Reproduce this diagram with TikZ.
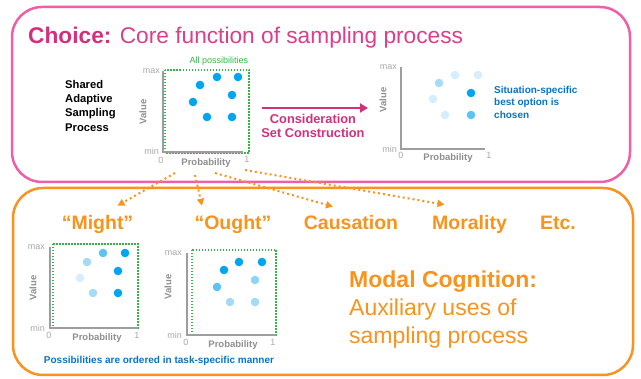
\documentclass[tikz,border=0pt]{standalone}
\usepackage{fontspec}
\setmainfont{Liberation Sans}
\usetikzlibrary{arrows.meta}

\definecolor{framepink}{HTML}{EF5FA7}
\definecolor{choicepink}{HTML}{D2307D}
\definecolor{corepink}{HTML}{DA3F8A}
\definecolor{modalorange}{HTML}{F7931E}
\definecolor{infoblue}{HTML}{0B72C0}
\definecolor{dotbright}{HTML}{00A5F0}
\definecolor{dotmid}{HTML}{5CC3F5}
\definecolor{dotlight}{HTML}{A6DBF8}
\definecolor{dotpale}{HTML}{D4EEFB}
\definecolor{possgreen}{HTML}{35B44A}
\definecolor{axisgray}{HTML}{9E9E9E}
\definecolor{ticktext}{HTML}{A8A8A8}
\definecolor{axistext}{HTML}{8E8E8E}

\tikzset{
    frame/.style={rounded corners=30pt, line width=2.5pt},
    axisline/.style={draw=axisgray, line width=1.6pt},
    possbox/.style={draw=possgreen, line width=1.5pt, dash pattern=on 1.5pt off 1.5pt},
    ticklabel/.style={inner sep=0, text=ticktext, font=\fontsize{9}{10}\selectfont},
    axislabel/.style={inner sep=0, text=axistext, font=\bfseries\fontsize{9.5}{11}\selectfont},
    heading/.style={anchor=base, inner sep=0, text=modalorange, font=\bfseries\fontsize{19.5}{22}\selectfont},
    usearrow/.style={draw=modalorange, line width=2pt, dash pattern=on 2pt off 3pt,
        -{Triangle[length=7pt,width=7pt]}},
}

\begin{document}
\begin{tikzpicture}[x=1pt,y=-1pt]
    \useasboundingbox (0,0) rectangle (641,379);

    % the two frames
    \draw[frame, draw=framepink] (12,7) rectangle (630,182);
    \draw[frame, draw=modalorange] (13,188) rectangle (633,375);

    % top: choice
    \node[anchor=base west, inner sep=0, font=\fontsize{22.7}{27}\selectfont, text=corepink] (title) at (28,43.5)
        {\textcolor{choicepink}{\bfseries Choice:} Core function of sampling process};
    \node[anchor=north west, inner sep=0, align=left, font=\bfseries\fontsize{11.2}{14.3}\selectfont] (shared) at (65,79.8)
        {Shared\\Adaptive\\Sampling\\Process};

    % all possibilities
    \begin{scope}[shift={(163,152)}]
        \draw[possbox] (2,-82) rectangle (86,1);
        \draw[axisline] (0,-81) -- (0,0) -- (80,0);
        \node[inner sep=0, text=possgreen, font=\fontsize{9}{10}\selectfont] (allposs) at (56,-91) {All possibilities};
        \node[ticklabel, anchor=east] (amax) at (-3,-81) {max};
        \node[ticklabel, anchor=east] (amin) at (-4,-1) {min};
        \node[ticklabel] (azero) at (-2,8) {0};
        \node[ticklabel] (aone) at (84,7) {1};
        \node[axislabel] (aprob) at (43,11) {Probability};
        \node[axislabel, rotate=90] (aval) at (-20,-40) {Value};
        \fill[dotbright] (37,-67) circle (4.3pt);
        \fill[dotbright] (54,-75) circle (4.3pt);
        \fill[dotbright] (75,-75) circle (4.3pt);
        \fill[dotbright] (30,-50) circle (4.3pt);
        \fill[dotbright] (69,-57) circle (4.3pt);
        \fill[dotbright] (44,-35) circle (4.3pt);
        \fill[dotbright] (69,-35) circle (4.3pt);
    \end{scope}

    \coordinate (csstart) at (262,108);
    \coordinate (csend) at (368,108);
    \draw[draw=choicepink, line width=2.5pt, -{Triangle[length=8pt,width=9pt]}] (csstart) -- (csend);
    \node[anchor=north, inner sep=0, align=center, text=choicepink, font=\bfseries\fontsize{12.8}{14}\selectfont] (consider) at (313,113.8)
        {Consideration\\Set Construction};

    % best option chosen
    \begin{scope}[shift={(401,149)}]
        \draw[axisline] (0,-82) -- (0,0) -- (84,0);
        \node[ticklabel, anchor=east] (bmax) at (-4,-82) {max};
        \node[ticklabel, anchor=east] (bmin) at (-4,0) {min};
        \node[ticklabel] (bzero) at (0,6) {0};
        \node[ticklabel] (bone) at (88,6) {1};
        \node[axislabel] (bprob) at (47,9) {Probability};
        \node[axislabel, rotate=90] (bval) at (-18,-49) {Value};
        \fill[dotlight] (38,-66) circle (4.3pt);
        \fill[dotpale] (54,-74) circle (4.3pt);
        \fill[dotpale] (77,-74) circle (4.3pt);
        \fill[dotpale] (32,-50) circle (4.3pt);
        \fill[dotbright] (70,-56) circle (4.3pt);
        \fill[dotpale] (44,-34) circle (4.3pt);
        \fill[dotmid] (70,-34) circle (4.3pt);
    \end{scope}
    \node[anchor=north west, inner sep=0, align=left, text=infoblue, font=\bfseries\fontsize{10}{12.2}\selectfont] (chosen) at (494,86.3)
        {Situation-specific\\best option is\\chosen};

    % bottom: modal cognition
    \node[heading] (might) at (97.5,230) {“Might”};
    \node[heading] (ought) at (233,230) {“Ought”};
    \node[heading] (causation) at (351,230) {Causation};
    \node[heading] (morality) at (469.5,230) {Morality};
    \node[heading] (etc) at (558,230) {Etc.};

    \coordinate (mightout) at (175,173);
    \coordinate (oughtout) at (195,175);
    \coordinate (causeout) at (215,173);
    \coordinate (moralout) at (245,170);
    \draw[usearrow] (mightout) -- ([shift={(20,-10)}]might.north);
    \draw[usearrow] (oughtout) -- ([shift={(-31,-10)}]ought.north);
    \draw[usearrow] (causeout) -- ([shift={(-18,-9)}]causation.north);
    \draw[usearrow] (moralout) -- ([shift={(-25,-11)}]morality.north);

    \node[anchor=north west, inner sep=0, align=left, text=modalorange, font=\fontsize{23}{28}\selectfont] (modal) at (349,270.3)
        {\textbf{Modal Cognition:}\\Auxiliary uses of\\sampling process};

    % might
    \begin{scope}[shift={(50,328)}]
        \draw[possbox] (3,-84) rectangle (88,0);
        \draw[axisline] (0,-81) -- (0,0) -- (88,0);
        \node[ticklabel, anchor=east] (mmax) at (-5,-81) {max};
        \node[ticklabel, anchor=east] (mmin) at (-5,0) {min};
        \node[ticklabel] (mzero) at (-1,7) {0};
        \node[ticklabel] (mone) at (87,7) {1};
        \node[axislabel] (mprob) at (47,10) {Probability};
        \node[axislabel, rotate=90] (mval) at (-17,-40) {Value};
        \fill[dotlight] (37,-66) circle (4.3pt);
        \fill[dotmid] (53,-75) circle (4.3pt);
        \fill[dotbright] (75,-75) circle (4.3pt);
        \fill[dotpale] (30,-50) circle (4.3pt);
        \fill[dotbright] (68,-57) circle (4.3pt);
        \fill[dotlight] (43,-35) circle (4.3pt);
        \fill[dotbright] (68,-35) circle (4.3pt);
    \end{scope}

    % ought
    \begin{scope}[shift={(187,335)}]
        \draw[possbox] (5,-85) rectangle (89,0);
        \draw[axisline] (0,-82) -- (0,0) -- (89,0);
        \node[ticklabel, anchor=east] (omax) at (-5,-82) {max};
        \node[ticklabel, anchor=east] (omin) at (-5,0) {min};
        \node[ticklabel] (ozero) at (-1,7) {0};
        \node[ticklabel] (oone) at (86,7) {1};
        \node[axislabel] (oprob) at (46,10) {Probability};
        \node[axislabel, rotate=90] (oval) at (-19,-48) {Value};
        \fill[dotbright] (37,-65) circle (4.3pt);
        \fill[dotbright] (52,-73) circle (4.3pt);
        \fill[dotbright] (75,-73) circle (4.3pt);
        \fill[dotmid] (30,-48) circle (4.3pt);
        \fill[dotmid!70!white] (68,-55) circle (4.3pt);
        \fill[dotlight] (43,-33) circle (4.3pt);
        \fill[dotlight] (68,-33) circle (4.3pt);
    \end{scope}

    \node[anchor=base, inner sep=0, text=infoblue, font=\bfseries\fontsize{10}{12}\selectfont] (ordered) at (159,363.3)
        {Possibilities are ordered in task-specific manner};
\end{tikzpicture}
\end{document}
